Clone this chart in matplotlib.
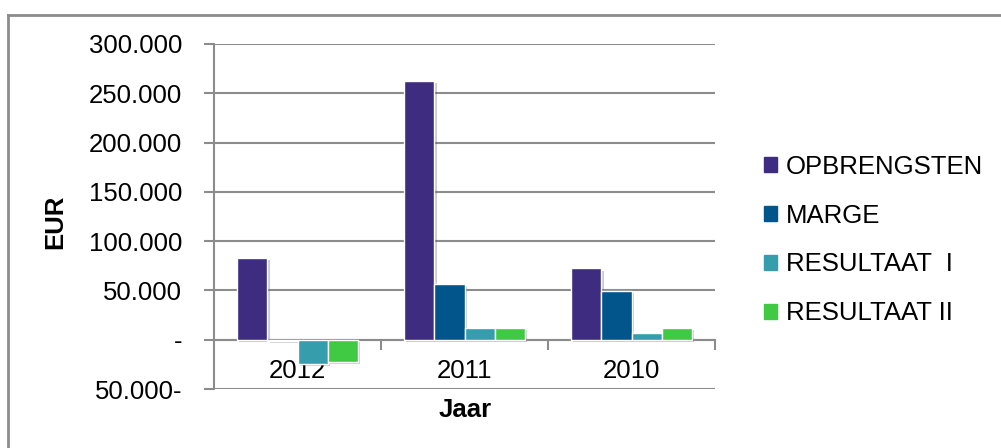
import matplotlib.pyplot as plt
import matplotlib.patheffects as pe
from matplotlib.lines import Line2D
from matplotlib.ticker import FuncFormatter, MultipleLocator
import numpy as np

plt.rcParams['font.family'] = ['Liberation Sans', 'DejaVu Sans']

years = ["2012", "2011", "2010"]
series = ["OPBRENGSTEN", "MARGE", "RESULTAAT  I", "RESULTAAT II"]
opbrengsten = [82500, 262500, 72300]
marge = [-1500, 56500, 49400]
resultaat_1 = [-24300, 12200, 7100]
resultaat_2 = [-22900, 12200, 12200]
colors = ["#3D2C80", "#02558A", "#359DAB", "#40C943"]

values = [opbrengsten, marge, resultaat_1, resultaat_2]
grid_col = "#8C8C8C"
fs = 18.5


def fmt(v, pos):
    if v == 0:
        return "-"
    s = f"{abs(v):,.0f}".replace(",", ".")
    return s + "-" if v < 0 else s


fig = plt.figure(figsize=(10.01, 4.48), dpi=100)
ax = fig.add_axes([214 / 1001, 1 - 389 / 448, 501 / 1001, 345 / 448])

x = np.arange(len(years))
w = 0.18
shadow = [pe.SimplePatchShadow(offset=(1.5, -1.5), shadow_rgbFace="#555555", alpha=0.3), pe.Normal()]
for i, (name, vals) in enumerate(zip(series, values)):
    bars = ax.bar(x + (i - 1.5) * w, vals, w, color=colors[i], edgecolor="white",
                  linewidth=1.0, label=name, zorder=3)
    for b in bars:
        b.set_path_effects(shadow)

ax.set_xlim(-0.5, 2.5)
ax.set_ylim(-50000, 300000)
ax.yaxis.set_major_locator(MultipleLocator(50000))
ax.yaxis.set_major_formatter(FuncFormatter(fmt))
ax.grid(axis="y", color=grid_col, linewidth=1.5, zorder=0)
ax.set_axisbelow(True)

for s in ["top", "right"]:
    ax.spines[s].set_visible(False)
ax.spines["left"].set_color(grid_col)
ax.spines["left"].set_linewidth(1.5)
ax.spines["bottom"].set_position(("data", 0))
ax.spines["bottom"].set_color(grid_col)
ax.spines["bottom"].set_linewidth(1.5)

ax.tick_params(axis="y", colors=grid_col, length=7, width=1.5, labelsize=fs,
               labelcolor="black", pad=16)
ax.set_xticks(x)
ax.set_xticklabels(years)
ax.set_xticks([0.5, 1.5, 2.5], minor=True)
ax.tick_params(axis="x", which="major", length=0, labelsize=fs, pad=14)
ax.tick_params(axis="x", which="minor", length=7, width=1.5, color=grid_col)

fig.text(55 / 1001, 1 - 222 / 448, "EUR", rotation=90, fontsize=fs,
         fontweight="bold", ha="center", va="center")
fig.text(465 / 1001, 1 - 410 / 448, "Jaar", fontsize=fs,
         fontweight="bold", ha="center", va="center")

handles = [plt.Rectangle((0, 0), 1, 1, color=c) for c in colors]
fig.legend(handles, series, loc="center left", bbox_to_anchor=(754 / 1001, 1 - 240 / 448),
           frameon=False, fontsize=fs, handlelength=0.5, handleheight=0.5,
           handletextpad=0.35, labelspacing=0.97, borderaxespad=0)

fig.add_artist(Line2D([8 / 1001, 8 / 1001], [0, 1 - 15 / 448], color="#8C8C8C",
                      linewidth=2, transform=fig.transFigure))
fig.add_artist(Line2D([8 / 1001, 1], [1 - 15 / 448, 1 - 15 / 448], color="#8C8C8C",
                      linewidth=2, transform=fig.transFigure))

fig.savefig("out.png", dpi=100)
